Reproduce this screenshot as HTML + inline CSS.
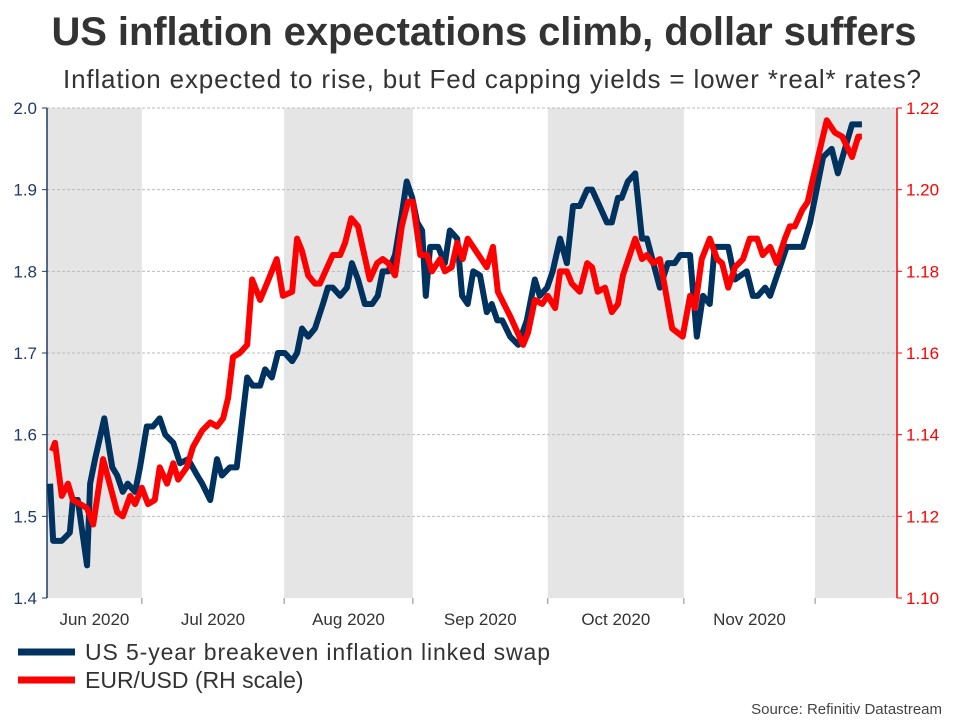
<!DOCTYPE html>
<html><head><meta charset="utf-8">
<style>
body{margin:0;background:#fff;}
svg{display:block;font-family:"Liberation Sans",sans-serif;}
</style></head>
<body>
<svg id="chart" width="960" height="720">
<text x="484" y="45" text-anchor="middle" font-size="40" font-weight="bold" fill="#333" textLength="865">US inflation expectations climb, dollar suffers</text>
<text x="492" y="88" text-anchor="middle" font-size="26" fill="#333" textLength="858">Inflation expected to rise, but Fed capping yields = lower *real* rates?</text>
<g id="bands"></g><g id="grid"></g><g id="axes"></g><g id="series"></g>
<g>
<line x1="18" y1="652" x2="75" y2="652" stroke="#00325f" stroke-width="7"/>
<text x="85" y="660" font-size="23" fill="#333" textLength="465">US 5-year breakeven inflation linked swap</text>
<line x1="18" y1="680" x2="75" y2="680" stroke="#ff0000" stroke-width="7"/>
<text x="85" y="688" font-size="23" fill="#333">EUR/USD (RH scale)</text>
</g>
<text x="942" y="714" text-anchor="end" font-size="15" fill="#444">Source: Refinitiv Datastream</text>
</svg>
<script>
const blueDays=[0.5,1.0,2.4,3.7,4.2,5.0,6.5,7.0,7.8,9.3,10.6,11.4,12.3,13.1,14.3,15.1,16.2,17.2,18.3,19.2,20.5,21.6,22.9,24.4,25.2,26.5,27.6,28.4,29.7,30.8,32.5,33.4,34.6,35.4,36.5,37.5,38.6,39.8,40.6,41.4,42.4,43.5,44.8,45.6,46.4,47.6,48.7,49.5,50.5,51.6,52.8,53.7,54.5,55.4,56.5,57.6,58.4,59.3,60.1,60.9,61.5,62.2,63.5,64.6,65.4,66.6,67.4,68.3,69.2,70.3,71.4,72.2,73.1,73.9,75.2,76.5,77.9,79.2,80.0,81.2,82.1,83.3,84.4,85.4,86.5,87.7,88.5,90.9,91.7,92.7,93.3,94.3,95.5,96.6,97.4,99.5,100.8,101.9,102.8,104.4,105.5,106.5,107.6,108.4,110.6,111.7,113.6,114.6,115.4,116.6,117.4,120.1,122.7,123.9,126.0,127.4,128.4,130.7,132.3];
const blueValues=[1.54,1.47,1.47,1.48,1.52,1.52,1.44,1.54,1.57,1.62,1.56,1.55,1.53,1.54,1.53,1.56,1.61,1.61,1.62,1.60,1.59,1.565,1.57,1.55,1.54,1.52,1.57,1.55,1.56,1.56,1.67,1.66,1.66,1.68,1.67,1.70,1.70,1.69,1.70,1.73,1.72,1.73,1.76,1.78,1.78,1.77,1.78,1.81,1.79,1.76,1.76,1.77,1.80,1.80,1.82,1.87,1.91,1.89,1.86,1.85,1.77,1.83,1.83,1.81,1.85,1.84,1.77,1.76,1.80,1.795,1.75,1.76,1.74,1.74,1.72,1.71,1.74,1.79,1.77,1.78,1.80,1.84,1.81,1.88,1.88,1.90,1.90,1.86,1.86,1.89,1.89,1.91,1.92,1.84,1.84,1.78,1.81,1.81,1.82,1.82,1.72,1.77,1.76,1.83,1.83,1.79,1.80,1.77,1.77,1.78,1.77,1.83,1.83,1.86,1.94,1.95,1.92,1.98,1.98];
const redDays=[0.8,1.3,2.4,3.4,4.2,5.4,6.5,7.5,9.1,11.4,12.3,13.5,14.3,15.4,16.4,17.5,18.3,19.5,20.5,21.3,22.7,23.7,25.2,26.5,27.6,28.6,29.4,30.2,31.3,32.5,33.3,34.6,35.7,37.3,38.3,39.8,40.6,41.4,42.4,43.5,44.3,45.5,46.4,47.6,48.4,49.4,50.5,52.4,53.6,54.5,55.4,56.5,57.6,58.6,59.4,60.6,61.7,62.5,63.8,64.6,65.7,66.6,67.5,68.3,71.4,72.4,73.2,75.2,77.3,78.1,79.2,80.4,81.3,82.5,83.3,84.4,85.2,86.5,87.7,88.5,89.4,90.6,91.7,92.7,93.5,95.5,96.6,97.4,98.4,99.5,101.5,103.2,104.4,105.2,106.3,107.6,108.8,109.6,110.6,111.7,113.0,114.1,115.3,116.2,117.4,118.5,119.8,120.6,121.4,122.6,123.5,124.4,126.6,127.9,129.1,130.7,131.7,132.3];
const redValues=[1.136,1.138,1.125,1.128,1.124,1.123,1.122,1.118,1.134,1.121,1.120,1.125,1.123,1.127,1.123,1.124,1.132,1.128,1.133,1.129,1.132,1.137,1.141,1.143,1.142,1.144,1.149,1.159,1.160,1.162,1.178,1.173,1.177,1.183,1.174,1.175,1.188,1.185,1.179,1.177,1.177,1.181,1.184,1.184,1.187,1.193,1.191,1.178,1.182,1.183,1.182,1.179,1.191,1.197,1.197,1.184,1.184,1.180,1.183,1.180,1.181,1.187,1.183,1.188,1.181,1.186,1.175,1.169,1.162,1.165,1.173,1.172,1.174,1.171,1.180,1.180,1.177,1.175,1.182,1.181,1.175,1.176,1.170,1.172,1.179,1.188,1.183,1.184,1.182,1.183,1.166,1.164,1.174,1.171,1.183,1.188,1.183,1.182,1.176,1.181,1.183,1.188,1.188,1.184,1.186,1.182,1.188,1.191,1.191,1.195,1.197,1.203,1.217,1.214,1.213,1.208,1.213,1.213];
const monthStarts=[15.4,38.5,59.4,81.3,103.4,124.7];
const monthLabels=["Jun 2020","Jul 2020","Aug 2020","Sep 2020","Oct 2020","Nov 2020"];
const leftTicks=[1.4,1.5,1.6,1.7,1.8,1.9,2.0];
const rightTicks=[1.10,1.12,1.14,1.16,1.18,1.20,1.22];

const NS="http://www.w3.org/2000/svg";
const X0=47,X1=897,Y0=598,Y1=108,DMAX=138;
const xs=d=>X0+d*(X1-X0)/DMAX;
const yL=v=>Y0-(v-1.4)/(2.0-1.4)*(Y0-Y1);
const yR=v=>Y0-(v-1.10)/(1.22-1.10)*(Y0-Y1);
function mk(tag,attrs,parent){const e=document.createElementNS(NS,tag);for(const k in attrs)e.setAttribute(k,attrs[k]);parent.appendChild(e);return e;}
const bands=document.getElementById('bands'),grid=document.getElementById('grid'),axes=document.getElementById('axes'),series=document.getElementById('series');
const edges=[0].concat(monthStarts).concat([DMAX]);
for(let i=0;i<edges.length-1;i++){
  if(i%2===0){const r=mk('rect',{x:xs(edges[i]),y:Y1,width:xs(edges[i+1])-xs(edges[i]),height:Y0-Y1,fill:'#e5e5e5'},bands);
  
  }
}
leftTicks.forEach(v=>{
  if(v>1.4){const g=mk('line',{x1:X0,x2:X1,y1:yL(v),y2:yL(v),stroke:'#bbb','stroke-dasharray':'3,2','stroke-width':1},grid);
  
  }
  const t=mk('text',{x:37,y:yL(v)+6,'text-anchor':'end','font-size':17,fill:'#1f3a6b'},axes);t.textContent=v.toFixed(1);
  
  
  mk('line',{x1:X0-5,x2:X0,y1:yL(v),y2:yL(v),stroke:'#1f3a6b'},axes);
});
rightTicks.forEach(v=>{
  const t=mk('text',{x:906,y:yR(v)+6,'font-size':17,fill:'#ff0000'},axes);t.textContent=v.toFixed(2);
  
  
  mk('line',{x1:X1,x2:X1+5,y1:yR(v),y2:yR(v),stroke:'#ff0000'},axes);
});
const la=mk('line',{x1:X0,x2:X0,y1:Y1,y2:Y0,stroke:'#1f3a6b','stroke-width':1.5},axes);


const ra=mk('line',{x1:X1,x2:X1,y1:Y1,y2:Y0,stroke:'#ff0000','stroke-width':1.5},axes);


monthStarts.forEach(d=>{mk('line',{x1:xs(d),x2:xs(d),y1:Y0,y2:Y0+6,stroke:'#888'},axes);});
monthLabels.forEach((lab,i)=>{
  const c=(xs(edges[i])+xs(edges[i+1]))/2;
  const t=mk('text',{x:c,y:625,'text-anchor':'middle','font-size':17,fill:'#333'},axes);t.textContent=lab;
  
  
});
const bp=mk('polyline',{points:blueDays.map((d,i)=>xs(d)+','+yL(blueValues[i])).join(' '),fill:'none',stroke:'#00325f','stroke-width':6,'stroke-linejoin':'round'},series);


const rp=mk('polyline',{points:redDays.map((d,i)=>xs(d)+','+yR(redValues[i])).join(' '),fill:'none',stroke:'#ff0000','stroke-width':6,'stroke-linejoin':'round'},series);


</script>
</body></html>
